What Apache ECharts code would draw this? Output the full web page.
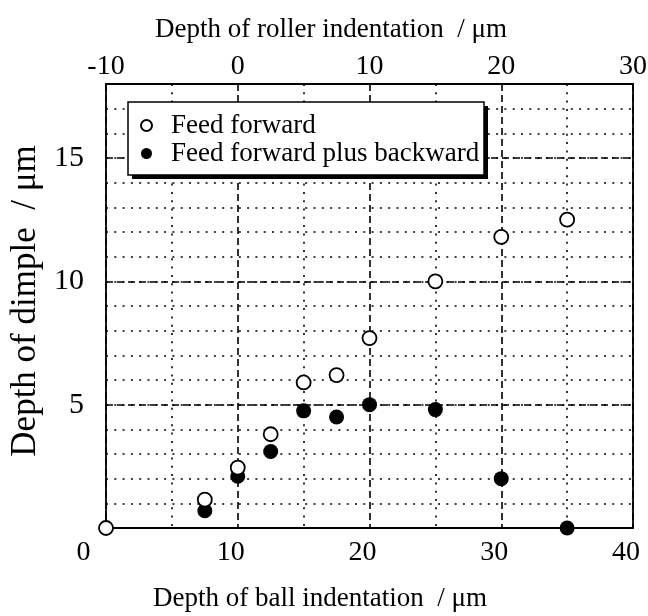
<!DOCTYPE html>
<html>
<head>
<meta charset="utf-8">
<script src="https://cdn.jsdelivr.net/npm/echarts@6/dist/echarts.min.js"></script>
<style>html,body{margin:0;padding:0;background:#fff;}#c{width:648px;height:616px;}</style>
</head>
<body>
<div id="c"></div>
<script>
// Data
var ffX = [0, 7.5, 10, 12.5, 15, 17.5, 20, 25, 30, 35];
var ffY = [0, 1.15, 2.45, 3.8, 5.9, 6.2, 7.7, 10.0, 11.8, 12.5];
var fbX = [7.5, 10, 12.5, 15, 17.5, 20, 25, 30, 35];
var fbY = [0.7, 2.1, 3.1, 4.75, 4.5, 5.0, 4.8, 2.0, 0];
var seriesNames = ['Feed forward', 'Feed forward plus backward'];
var bottomTicks = [0, 10, 20, 30, 40];
var topTicks = [-10, 0, 10, 20, 30];
var yTicks = [5, 10, 15];

var FONT = "'Liberation Serif', 'Times New Roman', serif";
var ffData = ffX.map(function (x, i) { return [x, ffY[i]]; });
var fbData = fbX.map(function (x, i) { return [x, fbY[i]]; });

var dotted = { color: '#000', width: 1.6, type: [2, 6.3] };
var dashed = { color: '#000', width: 1.6, type: [7, 4] };
var axisLine = { show: true, onZero: false, lineStyle: { color: '#000', width: 1.8 } };

var chart = echarts.init(document.getElementById('c'));
chart.setOption({
  backgroundColor: '#fff',
  animation: false,
  grid: { left: 106, right: 15, top: 84, bottom: 88, outerBoundsMode: 'none', containLabel: false },
  graphic: [
    { type: 'rect', z: 3, shape: { x: 132, y: 106, width: 356, height: 73 }, style: { fill: '#000' } },
    { type: 'rect', z: 3, shape: { x: 128, y: 102, width: 356, height: 73 }, style: { fill: '#fff', stroke: '#000', lineWidth: 1.5 } }
  ],
  legend: {
    orient: 'vertical', left: 128, top: 102, z: 5,
    data: seriesNames,
    padding: [10, 5, 1, 12], itemGap: 1, itemWidth: 11, itemHeight: 11,
    formatter: function (n) { return '{t|' + n + '}'; },
    textStyle: { rich: { t: { fontFamily: FONT, fontSize: 27, color: '#000', lineHeight: 31, padding: [0, 0, 0, 14] } } }
  },
  xAxis: [
    {
      type: 'value', position: 'bottom', min: 0, max: 40, interval: 10,
      name: 'Depth of ball indentation  / \u03bcm', nameLocation: 'middle', nameGap: 57,
      nameTextStyle: { fontFamily: FONT, fontSize: 27, color: '#000', padding: [0, 99, 0, 0] },
      axisLine: axisLine, axisTick: { show: false },
      axisLabel: {
        fontFamily: FONT, fontSize: 28, color: '#000', margin: 11, padding: [0, 14, 0, 0],
        formatter: function (v) { return bottomTicks.indexOf(v) < 0 ? '' : (v === 0 ? '{z|0}' : String(v)); },
        rich: { z: { fontFamily: FONT, fontSize: 28, color: '#000', padding: [0, 31, 0, 0] } }
      },
      splitLine: { show: true, lineStyle: dashed },
      minorTick: { show: false, splitNumber: 2 },
      minorSplitLine: { show: true, lineStyle: dotted }
    },
    {
      type: 'value', position: 'top', min: -10, max: 30, interval: 10,
      name: 'Depth of roller indentation  / \u03bcm', nameLocation: 'middle', nameGap: 41,
      nameTextStyle: { fontFamily: FONT, fontSize: 27, color: '#000', padding: [0, 77, 0, 0] },
      axisLine: axisLine, axisTick: { show: false },
      axisLabel: {
        fontFamily: FONT, fontSize: 28, color: '#000', margin: 3,
        formatter: function (v) { return topTicks.indexOf(v) < 0 ? '' : String(v); }
      },
      splitLine: { show: false }
    }
  ],
  yAxis: [
    {
      type: 'value', position: 'left', min: 0, max: 18, interval: 1,
      name: 'Depth of dimple  / \u03bcm', nameLocation: 'middle', nameGap: 61,
      nameTextStyle: { fontFamily: FONT, fontSize: 35, color: '#000', padding: [0, 0, 0, 10] },
      axisLine: axisLine, axisTick: { show: false },
      axisLabel: {
        fontFamily: FONT, fontSize: 30, color: '#000', margin: 22,
        formatter: function (v) { return yTicks.indexOf(v) < 0 ? '' : String(v); }
      },
      splitLine: { show: true, lineStyle: dotted }
    },
    {
      type: 'value', position: 'right', min: 0, max: 18, interval: 5,
      axisLine: axisLine, axisTick: { show: false }, axisLabel: { show: false },
      splitLine: { show: true, lineStyle: dashed }
    }
  ],
  series: [
    {
      name: seriesNames[0], type: 'scatter', data: ffData, clip: false, z: 5,
      symbol: 'circle', symbolSize: 14,
      itemStyle: { color: '#fff', borderColor: '#000', borderWidth: 1.8, opacity: 1 }
    },
    {
      name: seriesNames[1], type: 'scatter', data: fbData, clip: false, z: 4,
      symbol: 'circle', symbolSize: 15,
      itemStyle: { color: '#000', opacity: 1 }
    }
  ]
});
</script>
</body>
</html>
